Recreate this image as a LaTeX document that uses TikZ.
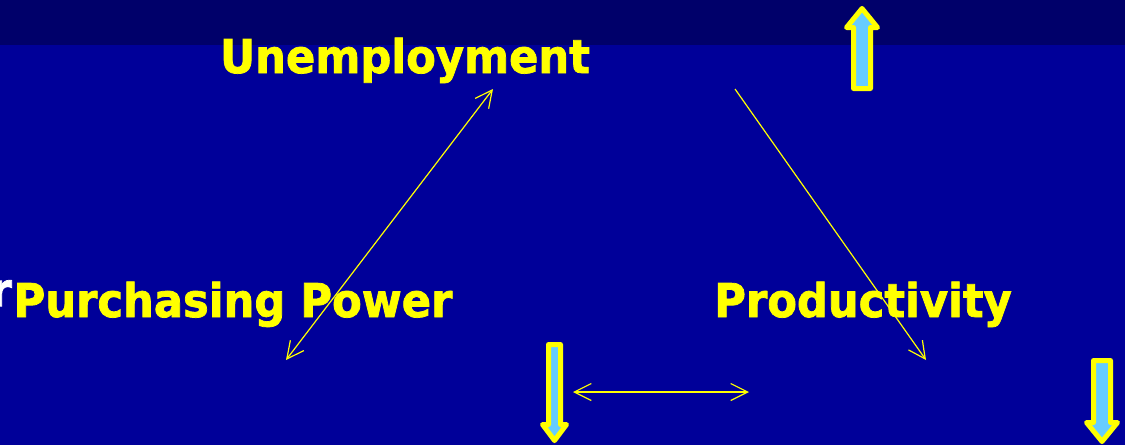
\documentclass[tikz,border=0pt]{standalone}
\usepackage{fontspec}
\newfontfamily\labelfont[FakeStretch=0.93,BoldFeatures={FakeBold=1.6}]{DejaVu Sans}
\usetikzlibrary{arrows.meta}
\definecolor{deepnavy}{RGB}{0,0,106}
\definecolor{slideblue}{RGB}{0,0,153}
\definecolor{hiyellow}{RGB}{255,255,0}
\definecolor{skyfill}{RGB}{102,204,255}
\tikzset{
  lbl/.style={text=hiyellow,inner sep=0pt,anchor=base,
    font=\labelfont\bfseries\fontsize{46.5}{50}\selectfont},
  link/.style={hiyellow,line width=1.2pt},
  % fat block arrow: tip offset, neck offset, shaft half width, head half width
  pics/fatarrow/.style n args={4}{code={%
    \draw[hiyellow,fill=skyfill,line width=5pt,line join=round]
      (-#3,0)--(-#3,#2)--(-#4,#2)--(0,#1)--(#4,#2)--(#3,#2)--(#3,0)--cycle;}}
}

\begin{document}
\begin{tikzpicture}[x=1pt,y=-1pt,>={Straight Barb[length=17pt,width=17pt]}]
\useasboundingbox (0,0) rectangle (1125,445);
\fill[slideblue](0,0) rectangle (1125,445);
\fill[deepnavy](0,0) rectangle (1125,45);

% the three labels
\node[lbl] (unemp) at (405,73) {Unemployment};
\node[lbl] (purch) at (233,317) {Purchasing Power};
\node[lbl] (prod) at (863,317) {Productivity};
\node[lbl,text=white,anchor=north east] (cut) at (12,280) {r};

% thin links
\coordinate (a1) at (493,89);
\coordinate (a2) at (286,360);
\coordinate (b1) at (735,89);
\coordinate (b2) at (926,360);
\coordinate (c1) at (573,392);
\coordinate (c2) at (749,392);
\draw[link,<->](a1)--(a2);
\draw[link,->](b1)--(b2);
\draw[link,<->](c1)--(c2);

% up / down arrows
\pic (upArrow) at (862,88.5) {fatarrow={-80}{-61}{8.5}{15.5}};
\pic (midArrow) at (554.5,344.5) {fatarrow={96}{80}{6}{12}};
\pic (rightArrow) at (1102,360.5) {fatarrow={81}{62}{8.5}{15.5}};
\end{tikzpicture}
\end{document}
